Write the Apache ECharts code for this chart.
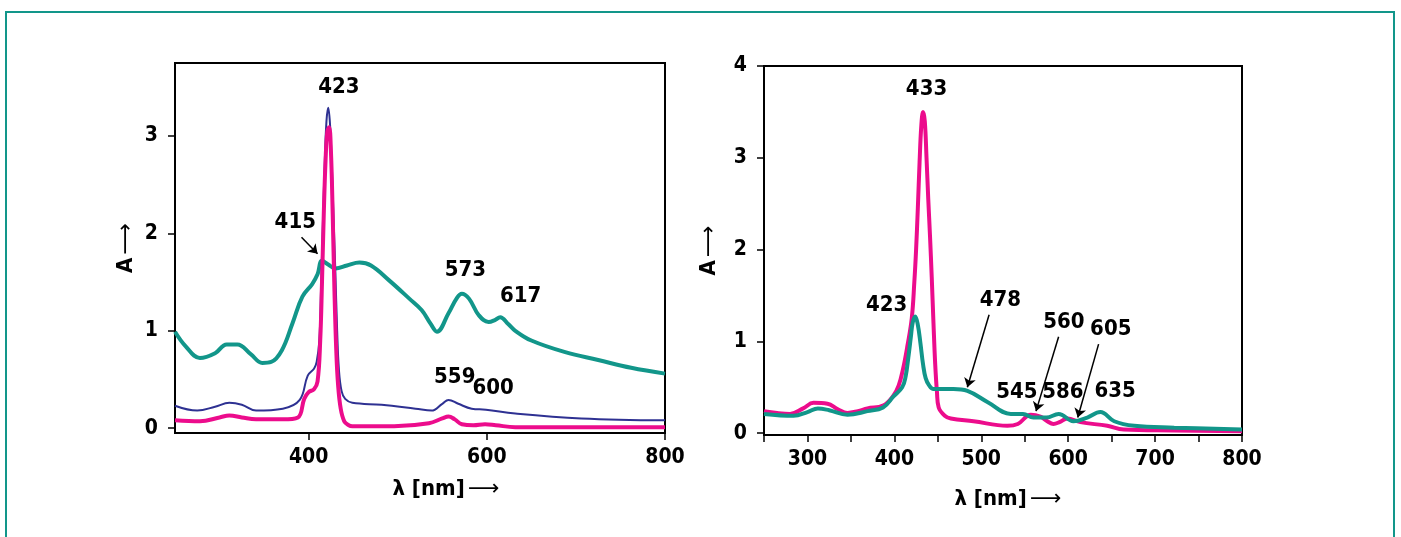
<!DOCTYPE html>
<html>
<head>
<meta charset="utf-8">
<title>spectra</title>
<script src="https://cdn.jsdelivr.net/npm/echarts@6/dist/echarts.min.js"></script>
<style>
  html, body { margin: 0; padding: 0; background: #fff; }
  #chart { width: 1401px; height: 537px; }
</style>
</head>
<body>
<div id="chart"></div>
<script>
/* 
	数据：左图三条曲线，右图两条曲线 [波长nm, 吸光度A]
 */
var leftTeal = [[250,0.99],[262,0.84],[278,0.72],[295,0.77],[308,0.86],[320,0.86],[335,0.76],[348,0.67],[358,0.68],[370,0.80],[382,1.08],[393,1.35],[404,1.48],[410,1.58],[415,1.72],[422,1.68],[430,1.64],[443,1.67],[457,1.70],[470,1.67],[490,1.52],[513,1.33],[527,1.21],[537,1.07],[544,0.99],[557,1.18],[566,1.33],[572,1.38],[580,1.33],[591,1.16],[602,1.09],[609,1.11],[615,1.14],[624,1.07],[632,1.00],[650,0.90],[688,0.78],[725,0.70],[762,0.62],[800,0.56]];
var leftNavy = [[250,0.23],[275,0.18],[295,0.22],[311,0.26],[325,0.24],[341,0.18],[371,0.20],[390,0.29],[399,0.54],[406,0.61],[409,0.68],[412,0.9],[414,1.45],[416,2.1],[418,2.7],[420,3.15],[422,3.29],[424,3.12],[426,2.7],[428,2.15],[430,1.6],[432,1.0],[434,0.6],[437,0.38],[441,0.30],[449,0.26],[482,0.24],[520,0.20],[538,0.18],[550,0.25],[557,0.29],[568,0.25],[583,0.20],[599,0.19],[632,0.15],[706,0.10],[800,0.08]];
var leftPink = [[250,0.08],[278,0.07],[300,0.11],[311,0.13],[325,0.11],[341,0.09],[371,0.09],[388,0.11],[395,0.30],[400,0.37],[406,0.40],[410,0.48],[413,0.9],[415,1.5],[417,2.2],[419,2.75],[421,3.05],[423,3.09],[425,2.85],[427,2.2],[429,1.4],[431,0.8],[433,0.45],[436,0.2],[440,0.07],[445,0.03],[449,0.02],[496,0.02],[535,0.05],[550,0.10],[557,0.12],[564,0.09],[572,0.04],[585,0.03],[598,0.04],[610,0.03],[632,0.01],[800,0.01]];

var rightPink = [[250,0.24],[265,0.22],[280,0.21],[295,0.27],[307,0.33],[323,0.32],[335,0.26],[346,0.22],[358,0.24],[369,0.27],[387,0.30],[399,0.41],[405,0.52],[410,0.70],[415,0.95],[420,1.25],[423,1.65],[425,2.0],[427,2.45],[429,2.95],[431,3.35],[433,3.50],[435,3.4],[437,3.0],[439,2.55],[441,2.15],[443,1.7],[445,1.2],[447,0.75],[449,0.45],[451,0.28],[458,0.19],[465,0.16],[491,0.13],[530,0.08],[542,0.10],[557,0.20],[568,0.18],[576,0.13],[583,0.10],[590,0.12],[599,0.16],[614,0.12],[645,0.08],[664,0.04],[722,0.03],[800,0.02]];
var rightTeal = [[250,0.21],[284,0.19],[300,0.23],[312,0.27],[325,0.25],[346,0.20],[369,0.24],[387,0.28],[399,0.40],[409,0.50],[413,0.62],[416,0.82],[419,1.05],[421,1.2],[424,1.27],[427,1.18],[430,0.98],[433,0.75],[436,0.60],[440,0.52],[445,0.48],[468,0.48],[484,0.46],[507,0.34],[534,0.21],[548,0.21],[560,0.17],[575,0.17],[589,0.21],[606,0.13],[622,0.17],[637,0.23],[653,0.13],[676,0.08],[722,0.06],[800,0.04]];

// 刻度
var leftXTicks = [400, 600, 800];
var leftYTicks = [0, 1, 2, 3];
var rightYTicks = [0, 1, 2, 3, 4];

// 峰值标注 [x, y, 文本]
var leftLabels = [[434,3.50,'423'],[385,2.11,'415'],[576,1.62,'573'],[638,1.35,'617'],[564,0.52,'559'],[607,0.41,'600']];
var rightLabels = [[437,3.75,'433'],[391,1.39,'423'],[522,1.45,'478'],[595,1.21,'560'],[649,1.13,'605'],[541,0.44,'545'],[594,0.44,'586'],[654,0.46,'635']];
// 箭头 [[x1,y1],[x2,y2]]
var leftArrows = [[[392,1.96],[410,1.79]]];
var rightArrows = [[[509,1.29],[484,0.50]],[[589,1.05],[563,0.24]],[[635,0.97],[611,0.17]]];

var TEAL = '#12968a', PINK = '#ec0c8c', NAVY = '#2e3192';
var FONT = '"Liberation Sans Narrow", "DejaVu Sans Condensed", sans-serif';
var INK = '#000';

var chart = echarts.init(document.getElementById('chart'));

function makeX(idx, gap, shift, isLeft){
	var ax = {
		gridIndex: idx, type: 'value', min: 250, max: 800,
		name: '{t|λ [nm]} {a|⟶}', nameLocation: 'middle', nameGap: gap,
		nameTextStyle: { padding: [0,0,0,shift], rich: {
			t: { fontFamily: FONT, fontWeight: 'bold', fontSize: 22, color: INK },
			a: { fontFamily: 'DejaVu Sans', fontSize: 22, color: INK } } },
		axisLine: { onZero: false, lineStyle: { color: INK, width: 2 } },
		axisTick: { inside: false, length: 7, lineStyle: { color: INK, width: 1.5 } },
		axisLabel: { margin: 14, color: INK, fontFamily: FONT, fontWeight: 'bold', fontSize: 21 },
		splitLine: { show: false }
	};
	if(isLeft){
		ax.axisTick.customValues = leftXTicks;
		ax.axisLabel.customValues = leftXTicks;
	} else {
		ax.interval = 50;
		ax.axisLabel.formatter = function(v){ return v % 100 === 0 ? String(v) : ''; };
	}
	return ax;
}
function makeY(idx, min, max, ticks, gap){
	return {
		gridIndex: idx, type: 'value', min: min, max: max,
		name: '{t|A} {a|⟶}', nameLocation: 'middle', nameGap: gap, nameRotate: 90,
		nameTextStyle: { rich: {
			t: { fontFamily: FONT, fontWeight: 'bold', fontSize: 22, color: INK },
			a: { fontFamily: 'DejaVu Sans', fontSize: 22, color: INK } } },
		axisLine: { onZero: false, lineStyle: { color: INK, width: 2 } },
		axisTick: { inside: false, length: 7, customValues: ticks, lineStyle: { color: INK, width: 1.5 } },
		axisLabel: { margin: 17, customValues: ticks, color: INK, fontFamily: FONT, fontWeight: 'bold', fontSize: 21 },
		splitLine: { show: false }
	};
}
function curve(idx, data, color, w){
	return { type: 'line', xAxisIndex: idx, yAxisIndex: idx, data: data, showSymbol: false,
		smooth: 0.4, lineStyle: { color: color, width: w }, silent: true };
}
function labels(idx, data){
	return { type: 'scatter', xAxisIndex: idx, yAxisIndex: idx, symbolSize: 0, data: data, silent: true, z: 10,
		itemStyle: { opacity: 1 },
		label: { show: true, position: 'inside', formatter: function(p){ return p.data[2]; },
			fontFamily: FONT, fontWeight: 'bold', fontSize: 22, color: INK } };
}
function arrows(idx, list){
	return { type: 'lines', coordinateSystem: 'cartesian2d', xAxisIndex: idx, yAxisIndex: idx, silent: true, z: 10,
		symbol: ['none', 'arrow'], symbolSize: 9,
		lineStyle: { color: INK, width: 1.5, opacity: 1 },
		data: list.map(function(c){ return { coords: c }; }) };
}

var option = {
	backgroundColor: '#fff',
	animation: false,
	grid: [
		{ left: 175, top: 63, width: 490, height: 370, show: true, borderColor: INK, borderWidth: 2 },
		{ left: 764, top: 66, width: 478, height: 369, show: true, borderColor: INK, borderWidth: 2 }
	],
	xAxis: [ makeX(0, 45, 52, true), makeX(1, 53, 10, false) ],
	yAxis: [ makeY(0, -0.05, 3.75, leftYTicks, 38), makeY(1, -0.02, 4, rightYTicks, 44) ],
	series: [
		curve(0, leftTeal, TEAL, 4),
		curve(0, leftNavy, NAVY, 2),
		curve(0, leftPink, PINK, 4),
		labels(0, leftLabels),
		arrows(0, leftArrows),
		curve(1, rightPink, PINK, 4),
		curve(1, rightTeal, TEAL, 4),
		labels(1, rightLabels),
		arrows(1, rightArrows)
	],
	// 外框
	graphic: [{ type: 'rect', shape: { x: 6, y: 12, width: 1388, height: 540 },
		style: { fill: 'none', stroke: TEAL, lineWidth: 2 } }]
};
chart.setOption(option);
</script>
</body>
</html>
